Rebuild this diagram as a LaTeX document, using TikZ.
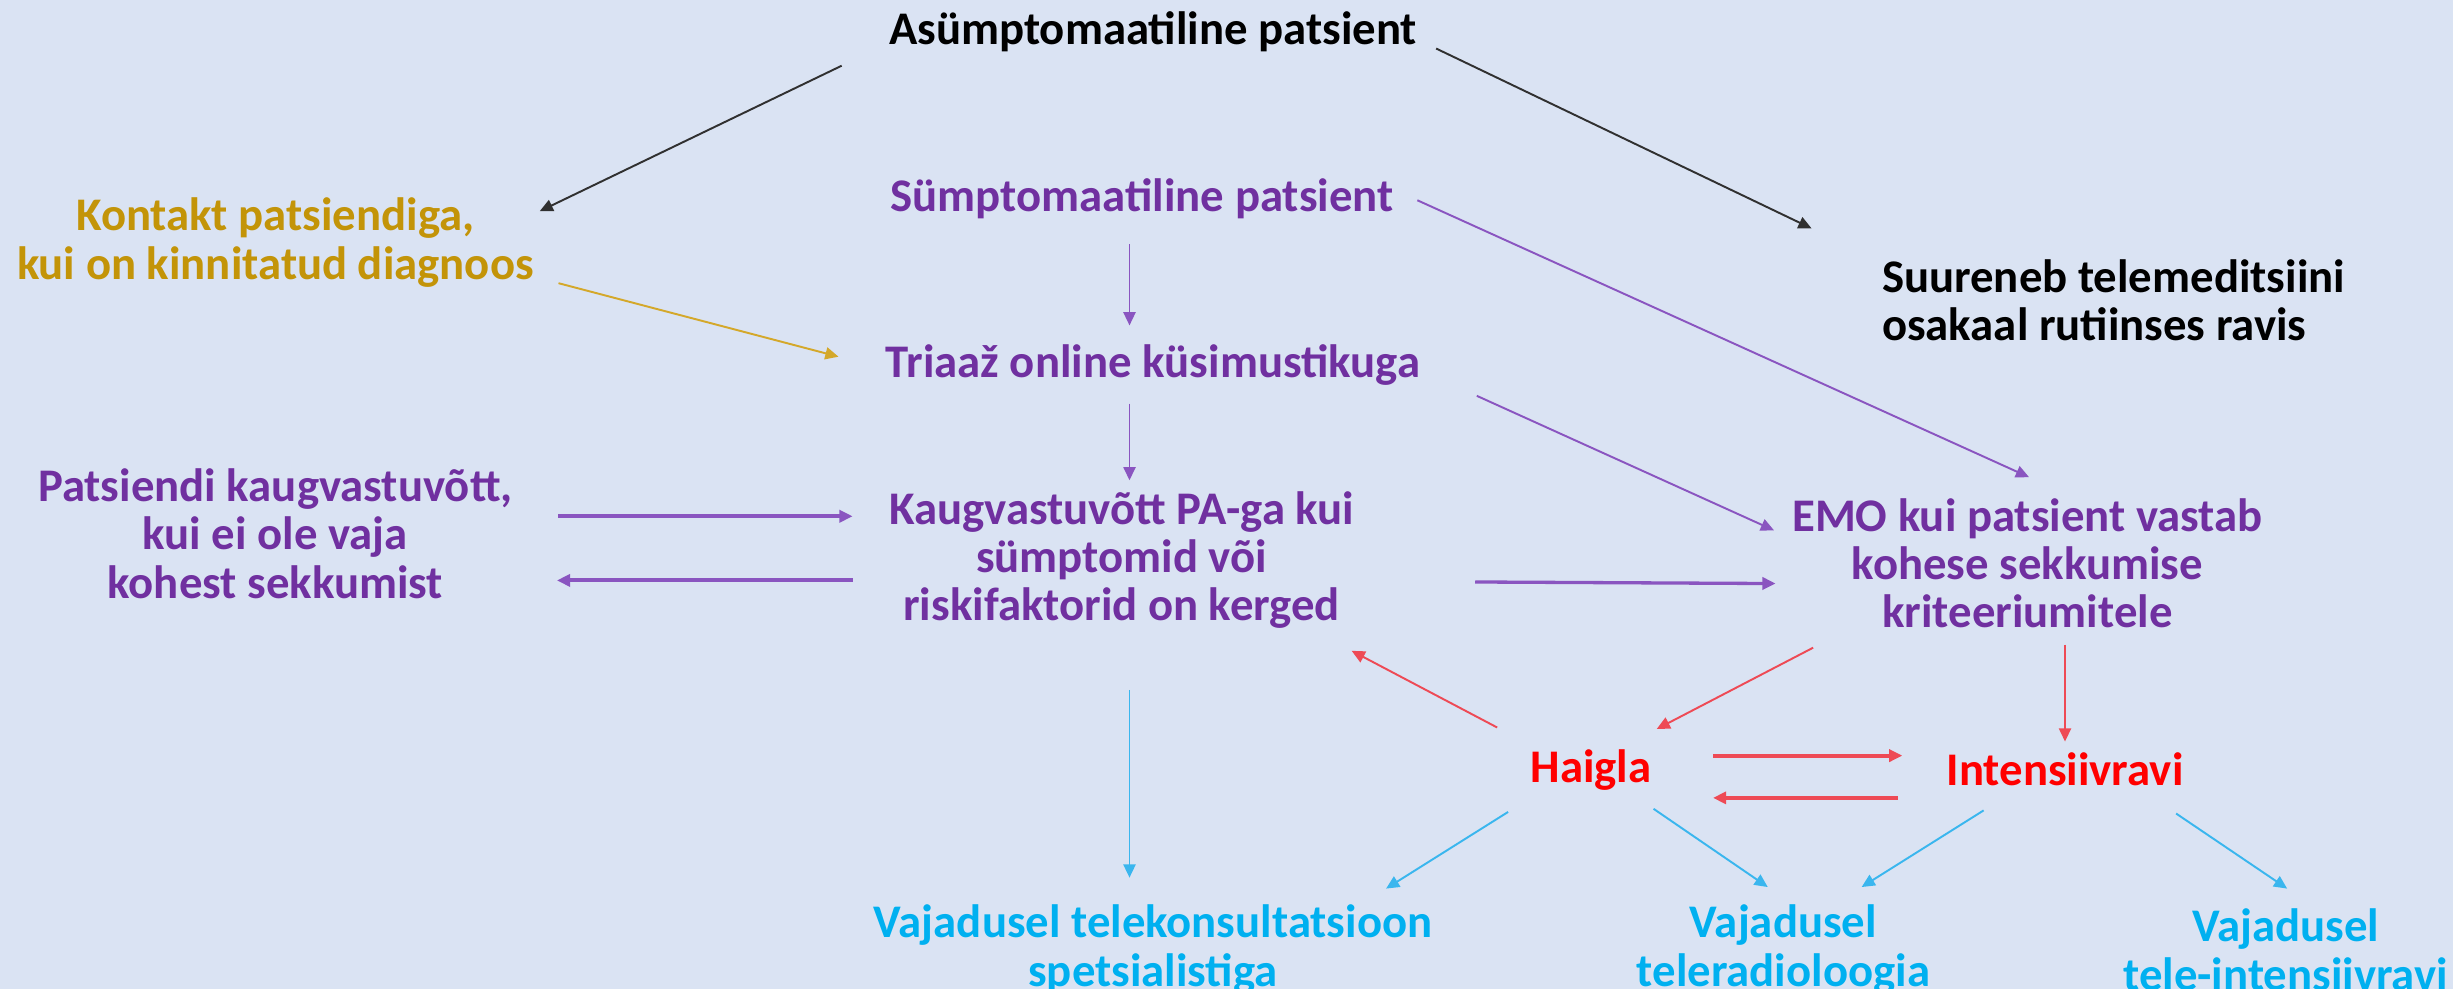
\documentclass[tikz,border=0pt]{standalone}
\usepackage{fontspec}
\setmainfont{Carlito}
\usetikzlibrary{arrows.meta}
\definecolor{bg}{HTML}{DAE3F3}
\definecolor{purp}{HTML}{7030A0}
\definecolor{purpl}{HTML}{8A55C0}
\definecolor{gold}{HTML}{C39408}
\definecolor{goldl}{HTML}{D4A82A}
\definecolor{redt}{HTML}{FF0000}
\definecolor{redl}{HTML}{EE4A55}
\definecolor{cyan}{HTML}{00B0F0}
\definecolor{cyanl}{HTML}{3AB6EE}
\definecolor{darkl}{HTML}{303030}
\begin{document}
\begin{tikzpicture}[x=0.01cm,y=-0.01cm,
  every node/.style={font=\bfseries\fontsize{8.5}{8.8}\selectfont, align=center, inner sep=0pt},
  arr/.style={-{Triangle[length=2.4pt,width=2.2pt]}, line width=0.35pt},
  thickarr/.style={arr, line width=0.75pt}]
\fill[bg] (0,0) rectangle (1568,632);
\useasboundingbox (0,0) rectangle (1568,632);

\node[text=black] (A) at (737,20) {Asümptomaatiline patsient};
\node[text=gold] (K) at (176,155) {Kontakt patsiendiga,\\kui on kinnitatud diagnoos};
\node[text=purp] (S) at (730,127) {Sümptomaatiline patsient};
\node[text=black, align=left] (SU) at (1351,192) {Suureneb telemeditsiini\\osakaal rutiinses ravis};
\node[text=purp] (T) at (737,233) {Triaaž online küsimustikuga};
\node[text=purp] (P) at (176,341) {Patsiendi kaugvastuvõtt,\\kui ei ole vaja\\kohest sekkumist};
\node[text=purp] (KV) at (717,358) {Kaugvastuvõtt PA-ga kui\\sümptomid või\\riskifaktorid on kerged};
\node[text=purp] (E) at (1296,360) {EMO kui patsient vastab\\kohese sekkumise\\kriteeriumitele};
\node[text=redt] (H) at (1017,492) {Haigla};
\node[text=redt] (I) at (1320,492) {Intensiivravi};
\node[text=cyan] (V1) at (737,607) {Vajadusel telekonsultatsioon\\spetsialistiga};
\node[text=cyan] (V2) at (1140,607) {Vajadusel\\teleradioloogia};
\node[text=cyan] (V3) at (1461,607) {Vajadusel\\tele-intensiivravi};

% black
\draw[arr, darkl] ([shift={(-199,22)}]A.center) -- ([shift={(169,-20)}]K.center);
\draw[arr, darkl] ([shift={(181,11)}]A.center) -- ([shift={(-193,-46)}]SU.center);
% gold
\draw[arr, goldl] ([shift={(181,26)}]K.center) -- ([shift={(-201,-5)}]T.center);
% purple
\draw[arr, purpl] ([shift={(-8,29)}]S.center) -- ([shift={(-15,-25)}]T.center);
\draw[arr, purpl] ([shift={(-15,25)}]T.center) -- ([shift={(5,-51)}]KV.center);
\draw[arr, purpl] ([shift={(176,1)}]S.center) -- ([shift={(1,-55)}]E.center);
\draw[arr, purpl] ([shift={(207,20)}]T.center) -- ([shift={(-162,-21)}]E.center);
\draw[thickarr, purpl] ([shift={(181,-11)}]P.center) -- ([shift={(-172,-28)}]KV.center);
\draw[thickarr, purpl] ([shift={(-172,13)}]KV.center) -- ([shift={(180,30)}]P.center);
\draw[arr, purpl, line width=0.6pt] ([shift={(226,14)}]KV.center) -- ([shift={(-161,13)}]E.center);
% red
\draw[arr, redl] ([shift={(-137,54)}]E.center) -- ([shift={(42,-26)}]H.center);
\draw[arr, redl] ([shift={(-60,-27)}]H.center) -- ([shift={(147,58)}]KV.center);
\draw[arr, redl] ([shift={(24,52)}]E.center) -- ([shift={(0,-18)}]I.center);
\draw[thickarr, redl] ([shift={(78,-9)}]H.center) -- ([shift={(-104,-9)}]I.center);
\draw[thickarr, redl] ([shift={(-107,18)}]I.center) -- ([shift={(78,18)}]H.center);
% cyan
\draw[arr, cyanl] ([shift={(5,83)}]KV.center) -- ([shift={(-15,-46)}]V1.center);
\draw[arr, cyanl] ([shift={(-53,27)}]H.center) -- ([shift={(149,-39)}]V1.center);
\draw[arr, cyanl] ([shift={(40,25)}]H.center) -- ([shift={(-10,-40)}]V2.center);
\draw[arr, cyanl] ([shift={(-52,26)}]I.center) -- ([shift={(50,-40)}]V2.center);
\draw[arr, cyanl] ([shift={(71,28)}]I.center) -- ([shift={(1,-39)}]V3.center);
\end{tikzpicture}
\end{document}
